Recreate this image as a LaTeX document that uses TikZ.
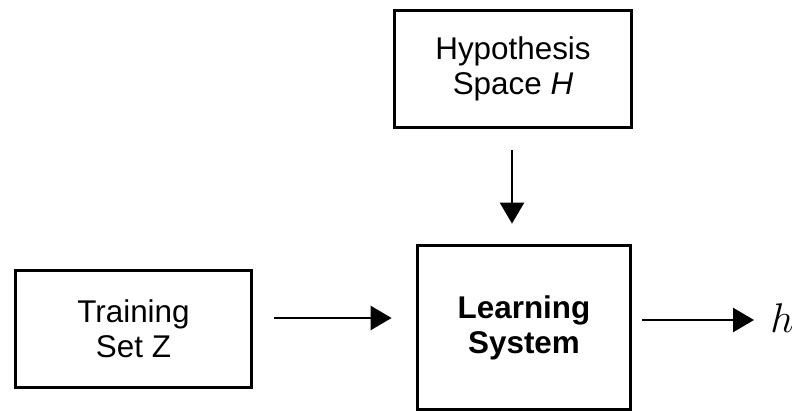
\documentclass[tikz,border=0pt]{standalone}
\usepackage{fontspec}
\setmainfont{Liberation Sans}
\usetikzlibrary{arrows.meta}
\begin{document}
\begin{tikzpicture}[x=0.5pt,y=-0.5pt,
  block/.style={draw, line width=1.9pt, align=center, inner sep=0pt,
    font=\fontsize{15.7}{17.5}\selectfont},
  arr/.style={line width=1.3pt, -{Triangle[length=10.5pt,width=12pt]}}]
  \useasboundingbox (0,0) rectangle (792,411);
  % blocks
  \node[block, minimum width=118.5pt, minimum height=58.5pt] (hyp) at (513,69)
    {Hypothesis\\Space \textit{H}};
  \node[block, minimum width=118pt, minimum height=58.5pt] (train) at (133.5,329)
    {Training\\Set Z};
  \node[block, minimum width=106.5pt, minimum height=82pt, font=\fontsize{15.7}{17.5}\selectfont\bfseries] (learn) at (524,327.5)
    {Learning\\System};
  \node[inner sep=0pt, anchor=west, font=\fontsize{22}{24}\selectfont] (out) at (770,318) {$h$};
  % connectors
  \draw[arr, shorten <=10.5pt, shorten >=10pt]
    ([xshift=-0.5pt]hyp.south) -- ([xshift=-0.5pt]hyp.south |- learn.north);
  \draw[arr, shorten <=10.5pt, shorten >=12pt]
    ([yshift=5.5pt]train.east) -- ([yshift=5.5pt]train.east -| learn.west);
  \draw[arr, shorten <=5pt, shorten >=8pt]
    ([yshift=-1pt]learn.east |- out.west) -- ([yshift=-1pt]out.west);
\end{tikzpicture}
\end{document}
